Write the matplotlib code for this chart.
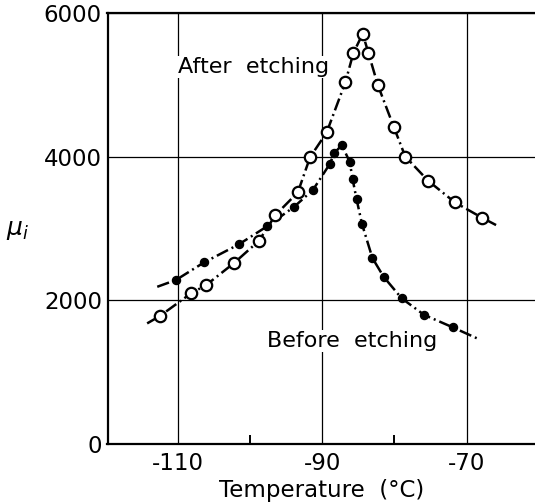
import matplotlib
matplotlib.use('Agg')
import matplotlib.pyplot as plt
from matplotlib.ticker import FixedLocator

plt.rcParams['font.family'] = ['DejaVu Sans']
plt.rcParams['mathtext.fontset'] = 'dejavusans'

# 刻蚀后 (空心圆)
after_T = [-112.5, -108.2, -106.1, -102.2, -98.8, -96.5, -93.4, -91.7, -89.4,
           -86.8, -85.7, -84.4, -83.6, -82.3, -80.1, -78.5, -75.3, -71.6, -67.9]
after_mu = [1785, 2100, 2215, 2525, 2830, 3190, 3505, 3995, 4340,
            5040, 5445, 5715, 5445, 5000, 4420, 4005, 3665, 3365, 3155]
# 曲线两端延伸部分
after_tail_T = [-114.3, -65.9]
after_tail_mu = [1680, 3050]

# 刻蚀前 (实心圆)
before_T = [-110.3, -106.4, -101.6, -97.7, -93.9, -91.3, -89.0, -88.35, -87.3,
            -86.2, -85.8, -85.25, -84.5, -83.05, -81.5, -79.0, -75.9, -71.9]
before_mu = [2285, 2530, 2780, 3030, 3305, 3540, 3895, 4050, 4165,
             3930, 3690, 3410, 3065, 2590, 2330, 2030, 1800, 1625]
before_tail_T = [-112.9, -68.5]
before_tail_mu = [2190, 1470]

x_major = [-110, -90, -70]
x_minor = [-100, -80]
y_ticks = [0, 2000, 4000, 6000]

fig = plt.figure(figsize=(5.35, 5.04), dpi=100)
ax = fig.add_axes([107.5 / 535, 60 / 504, 1 - 107.5 / 535, 430.7 / 504])

lw = 1.8
dash = (5.0, 1.6, 0.8, 1.6)

after_line_T = [after_tail_T[0]] + after_T + [after_tail_T[1]]
after_line_mu = [after_tail_mu[0]] + after_mu + [after_tail_mu[1]]
before_line_T = [before_tail_T[0]] + before_T + [before_tail_T[1]]
before_line_mu = [before_tail_mu[0]] + before_mu + [before_tail_mu[1]]

ax.plot(after_line_T, after_line_mu, color='black', lw=lw, dashes=dash, zorder=3)
ax.plot(before_line_T, before_line_mu, color='black', lw=lw, dashes=dash, zorder=3)

ax.plot(after_T, after_mu, 'o', ms=8.2, mfc='white', mec='black', mew=1.6,
        linestyle='none', zorder=5)
ax.plot(before_T, before_mu, 'o', ms=5.8, mfc='black', mec='black',
        linestyle='none', zorder=4)

ax.set_xlim(-119.8, -60.5)
ax.set_ylim(0, 6000)

ax.xaxis.set_major_locator(FixedLocator(x_major))
ax.xaxis.set_minor_locator(FixedLocator(x_minor))
ax.set_xticklabels(['-110', '-90', '-70'])
ax.set_yticks(y_ticks)
ax.set_yticklabels([str(v) for v in y_ticks])

ax.tick_params(axis='both', which='major', length=0, labelsize=16.5, pad=6)
ax.tick_params(axis='x', which='minor', direction='in', length=6.5, width=1.4)
ax.tick_params(axis='y', which='major', pad=4)

ax.grid(True, which='major', color='black', lw=0.9)
ax.set_axisbelow(True)

for side in ['left', 'bottom', 'top']:
    ax.spines[side].set_linewidth(1.6)
ax.spines['right'].set_visible(False)

ax.set_xlabel('Temperature  (\u00b0C)', fontsize=16.5, labelpad=3)
fig.text(18 / 535, 1 - 230 / 504, r'$\mu_i$', fontsize=18, ha='center', va='center')

ax.text(-99.6, 5250, 'After  etching', fontsize=16, ha='center', va='center',
        bbox=dict(facecolor='white', edgecolor='none', pad=1), zorder=4)
ax.text(-85.9, 1435, 'Before  etching', fontsize=16, ha='center', va='center',
        bbox=dict(facecolor='white', edgecolor='none', pad=1), zorder=4)

fig.savefig('out.png', dpi=100)
